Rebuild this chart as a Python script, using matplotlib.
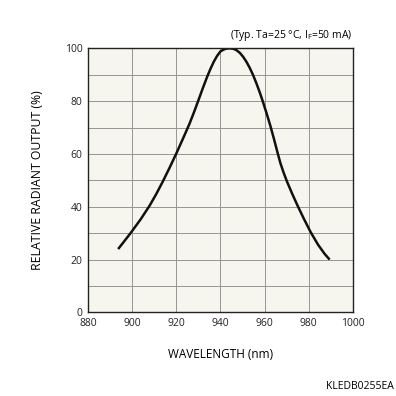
import matplotlib
matplotlib.use('Agg')
import matplotlib.pyplot as plt

# spectral response
wavelength = [893.7, 899.3, 904.0, 908.0, 911.0, 914.0, 917.0, 920.0, 923.0, 926.0,
              928.0, 930.0, 932.0, 934.0, 935.5, 937.0, 938.5, 940.0, 941.5, 942.8,
              944.2, 945.8, 947.3, 948.8, 950.3, 951.8, 953.3, 954.8, 956.3, 957.8,
              959.3, 961.0, 962.7, 964.3, 965.8, 967.2, 968.7, 970.3, 972.6, 975.1,
              977.8, 980.9, 984.2, 987.2, 989.5]
output = [24.0, 30.0, 35.4, 40.5, 44.9, 49.7, 54.8, 60.1, 65.7, 71.4,
          75.7, 80.2, 84.8, 89.2, 92.2, 94.9, 97.1, 98.8, 99.55, 99.9,
          100.0, 99.85, 99.3, 98.3, 96.8, 94.9, 92.6, 89.9, 86.8, 83.4,
          79.7, 75.2, 70.5, 65.6, 60.8, 56.5, 52.8, 49.3, 44.8, 40.2,
          35.5, 30.4, 25.7, 22.2, 20.0]

x_ticks = [880, 900, 920, 940, 960, 980, 1000]
y_ticks = [0, 20, 40, 60, 80, 100]

plt.rcParams['font.family'] = ['Open Sans', 'DejaVu Sans']

fig = plt.figure(figsize=(3.96, 3.96), dpi=100)
ax = fig.add_axes([0.222, 0.211, 0.669, 0.667])
ax.set_facecolor('#f7f6ee')

ax.plot(wavelength, output, color='#111111', lw=1.8,
        solid_joinstyle='round', solid_capstyle='butt')

ax.set_xlim(880, 1000)
ax.set_ylim(0, 100)
ax.set_xticks(x_ticks)
ax.set_yticks(y_ticks)
ax.set_yticks(range(0, 101, 10), minor=True)
ax.grid(True, which='both', color='#959595', lw=0.7)
ax.tick_params(which='both', length=0, labelsize=7.5, colors='#222222', pad=4)
for s in ax.spines.values():
    s.set_color('#222222')
    s.set_linewidth(1.0)

ax.set_xlabel('WAVELENGTH (nm)', fontsize=8.5, labelpad=14)
ax.set_ylabel('RELATIVE RADIANT OUTPUT (%)', fontsize=8.8, labelpad=15)

fig.text(0.891, 0.892, r'(Typ. Ta=25 °C, I$_\mathregular{F}$=50 mA)', ha='right', va='bottom', fontsize=7.5)
fig.text(0.995, 0.01, 'KLEDB0255EA', ha='right', va='bottom', fontsize=7.5)

fig.savefig('out.png', dpi=100)
